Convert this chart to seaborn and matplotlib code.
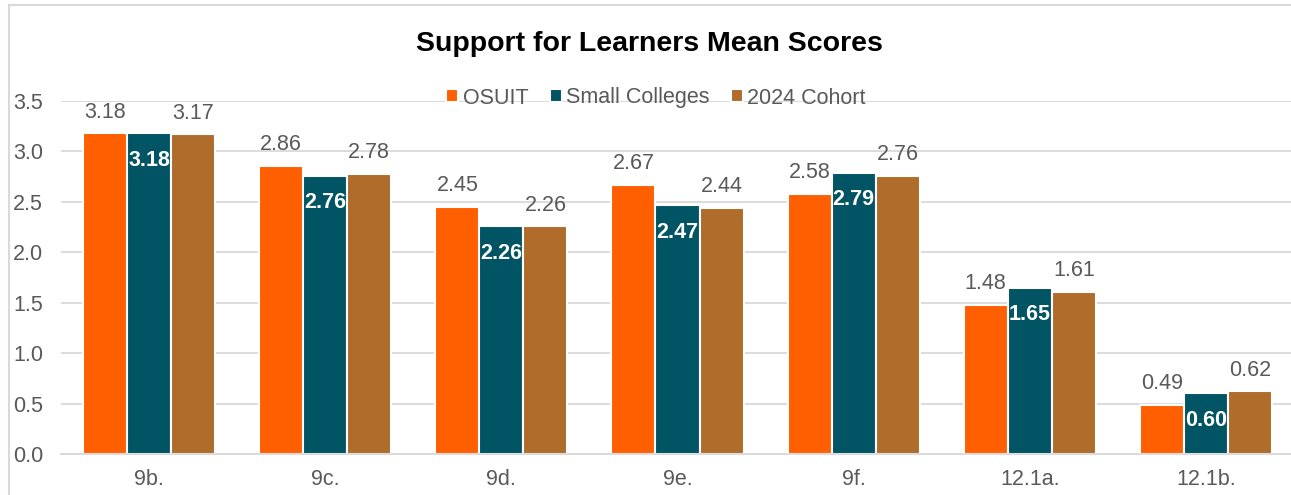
import pandas as pd
import matplotlib.pyplot as plt
import seaborn as sns
from matplotlib.patches import Rectangle

# Data
categories = ['9b.', '9c.', '9d.', '9e.', '9f.', '12.1a.', '12.1b.']
osuit = [3.18, 2.86, 2.45, 2.67, 2.58, 1.48, 0.49]
small_colleges = [3.18, 2.76, 2.26, 2.47, 2.79, 1.65, 0.60]
cohort_2024 = [3.17, 2.78, 2.26, 2.44, 2.76, 1.61, 0.62]
series_names = ['OSUIT', 'Small Colleges', '2024 Cohort']
yticks = [0.0, 0.5, 1.0, 1.5, 2.0, 2.5, 3.0, 3.5]

colors = ['#FF5F00', '#005463', '#B06C2A']
grey = '#595959'

df = pd.DataFrame({
    'item': categories * 3,
    'group': [series_names[0]] * 7 + [series_names[1]] * 7 + [series_names[2]] * 7,
    'score': osuit + small_colleges + cohort_2024,
})

sns.set_style('white')
plt.rcParams['font.family'] = ['Liberation Sans', 'DejaVu Sans']

W, H = 1291, 495
fs = 15.5
fig = plt.figure(figsize=(W / 100, H / 100), dpi=100)
ax = fig.add_axes([61 / W, 41 / H, (1294 - 61) / W, (454 - 101) / H])

sns.barplot(data=df, x='item', y='score', hue='group', order=categories,
            hue_order=series_names, palette=colors, saturation=1, width=0.75,
            edgecolor='white', linewidth=1.5, ax=ax, legend=True)

ax.set_ylim(0, 3.5)
ax.set_xlim(-0.5, 6.5)
ax.set_yticks(yticks)
ax.set_yticklabels([f'{t:.1f}' for t in yticks])
ax.set_xlabel('')
ax.set_ylabel('')
ax.tick_params(axis='both', colors=grey, labelsize=fs, length=0)
ax.tick_params(axis='x', pad=11)
ax.tick_params(axis='y', pad=13)
ax.yaxis.grid(True, color='#D9D9D9', linewidth=1.3)
ax.set_axisbelow(True)
for s in ['top', 'right', 'left']:
    ax.spines[s].set_visible(False)
ax.spines['bottom'].set_color('#D9D9D9')
ax.spines['bottom'].set_linewidth(1.3)

# value labels: outside for OSUIT/Cohort, inside (white bold) for Small Colleges
for i, cont in enumerate(ax.containers):
    for bar in cont:
        h = bar.get_height()
        x = bar.get_x() + bar.get_width() / 2
        if i == 1:
            ax.annotate(f'{h:.2f}', (x, h), xytext=(0, -12), textcoords='offset points',
                        ha='center', va='top', color='white', fontsize=fs,
                        fontweight='bold')
        else:
            ax.annotate(f'{h:.2f}', (x, h), xytext=(0, 7.5), textcoords='offset points',
                        ha='center', va='bottom', color=grey, fontsize=fs)

handles, labels = ax.get_legend_handles_labels()
ax.legend(handles, labels, loc='center', bbox_to_anchor=(656 / W, 1 - 98 / H),
          bbox_transform=fig.transFigure, ncol=3, frameon=False, fontsize=fs,
          handlelength=0.55, handleheight=0.55, handletextpad=0.2,
          columnspacing=1.0, labelcolor=grey)

fig.text(649 / W, 1 - 44 / H, 'Support for Learners Mean Scores', ha='center',
         va='center', fontsize=20.5, fontweight='bold', color='black')

# chart border
fig.patches.append(Rectangle((8.5 / W, -0.1), 1.2, 1 - 5.5 / H + 0.1,
                             transform=fig.transFigure, fill=False,
                             edgecolor='#D9D9D9', linewidth=1.5))

plt.savefig('out.png', dpi=100)
plt.close()
